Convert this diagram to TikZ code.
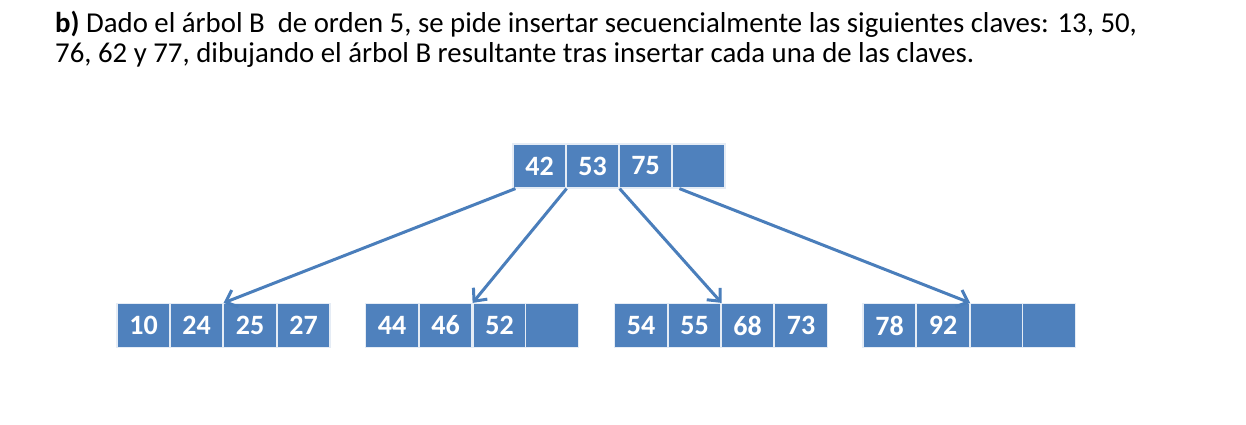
\documentclass[tikz,border=0pt]{standalone}
\usepackage{fontspec}
\setmainfont{Carlito}
\usepackage{xcolor}
\usetikzlibrary{positioning,arrows.meta}
\definecolor{cellblue}{HTML}{4F81BD}
\definecolor{lineblue}{HTML}{4A7EBB}

\begin{document}
\begin{tikzpicture}[
    x=1pt, y=-1pt,
    font=\fontsize{28.8}{30}\selectfont,
    cell/.style={draw=white!85!cellblue, fill=cellblue, line width=1.2pt,
      minimum width=53pt, minimum height=44pt, inner sep=0pt,
      text=white, font=\fontsize{28}{30}\selectfont\bfseries},
    arr/.style={-{Straight Barb[length=10pt,width=18pt,line width=3pt]},
      line width=3pt, draw=lineblue}
]
\useasboundingbox (0,0) rectangle (1246,425);
% statement
\node[anchor=base west, inner sep=0pt] (t1) at (55,33)
  {\textbf{b)} Dado el árbol B\ \ de orden 5, se pide insertar secuencialmente las siguientes claves: 13, 50,};
\node[anchor=base west, inner sep=0pt] (t2) at (55,63)
  {76, 62 y 77, dibujando el árbol B resultante tras insertar cada una de las claves.};
% root
\node[cell] (r1) at (539.5,166) {42};
\node[cell] (r2) at (592.5,166) {53};
\node[cell] (r3) at (645.5,166) {75};
\node[cell] (r4) at (698.5,166) {};
% leaves
\node[cell] (a1) at (143.5,325.5) {10};
\node[cell] (a2) at (196.5,325.5) {24};
\node[cell] (a3) at (250,325.5)   {25};
\node[cell] (a4) at (303.5,325.5) {27};
\node[cell] (b1) at (392,325.5)   {44};
\node[cell] (b2) at (445.5,325.5) {46};
\node[cell] (b3) at (499.5,325.5) {52};
\node[cell] (b4) at (552,325.5)   {};
\node[cell] (c1) at (641,325.5)   {54};
\node[cell] (c2) at (694.5,325.5) {55};
\node[cell] (c3) at (747.5,325.5) {68};
\node[cell] (c4) at (801,325.5)   {73};
\node[cell] (d1) at (889.5,325.5) {78};
\node[cell] (d2) at (943,325.5)   {92};
\node[cell] (d3) at (996.5,325.5) {};
\node[cell] (d4) at (1049,325.5)  {};
% pointers
\draw[arr] ([xshift=3pt]r1.south west) -- (a2.north east);
\draw[arr] (r1.south east) -- (b2.north east);
\draw[arr] (r2.south east) -- (c2.north east);
\draw[arr] ([xshift=8pt]r4.south west) -- (d2.north east);
\end{tikzpicture}
\end{document}
